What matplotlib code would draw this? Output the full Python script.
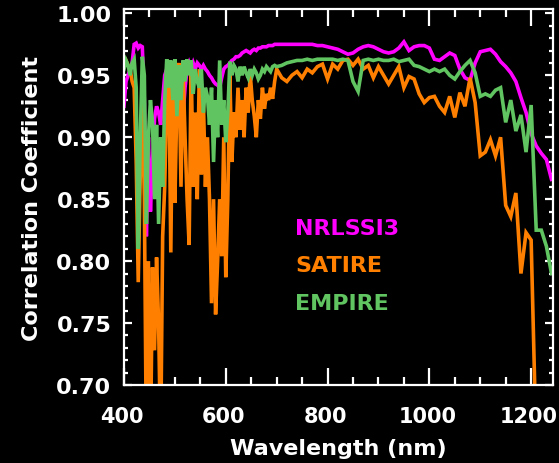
import numpy as np
import matplotlib
matplotlib.use("Agg")
import matplotlib.pyplot as plt
from matplotlib.ticker import MultipleLocator, FormatStrFormatter
from matplotlib.transforms import ScaledTranslation

# wavelength grids (nm)
wl_a = np.arange(400, 701, 4)
wl_b = np.arange(710, 1241, 10)
wavelength = np.concatenate([wl_a, wl_b])

nrlssi3 = [
    0.925, 0.945, 0.950, 0.955, 0.960, 0.975, 0.976, 0.972, 0.974, 0.973,
    0.930, 0.820, 0.900, 0.840, 0.880, 0.915, 0.925, 0.920, 0.910, 0.930,
    0.950, 0.955, 0.950, 0.955, 0.950, 0.945, 0.940, 0.950, 0.930, 0.918,
    0.940, 0.955, 0.960, 0.955, 0.960, 0.955, 0.960, 0.958, 0.955, 0.958,
    0.955, 0.953, 0.950, 0.948, 0.945, 0.943, 0.942, 0.940, 0.948, 0.955,
    0.957, 0.958, 0.960, 0.962, 0.963, 0.965, 0.965, 0.966, 0.968, 0.969,
    0.970, 0.969, 0.968, 0.970, 0.971, 0.970, 0.972, 0.972, 0.973, 0.973,
    0.973, 0.974, 0.974, 0.974, 0.975, 0.975,
    0.975, 0.975, 0.975, 0.975, 0.975, 0.975, 0.975, 0.974, 0.974, 0.973,
    0.972, 0.971, 0.969, 0.967, 0.968, 0.971, 0.973, 0.974, 0.973, 0.971,
    0.969, 0.968, 0.969, 0.972, 0.977, 0.970, 0.973, 0.974, 0.974, 0.972,
    0.963, 0.962, 0.965, 0.968, 0.966, 0.955, 0.948, 0.946, 0.960, 0.969,
    0.970, 0.971, 0.967, 0.961, 0.957, 0.952, 0.945, 0.932, 0.920, 0.903,
    0.893, 0.887, 0.882, 0.866,
]

satire = [
    0.960, 0.962, 0.958, 0.955, 0.945, 0.940, 0.880, 0.783, 0.870, 0.930,
    0.850, 0.650, 0.800, 0.650, 0.795, 0.728, 0.803, 0.750, 0.650, 0.820,
    0.860, 0.930, 0.960, 0.807, 0.960, 0.847, 0.930, 0.960, 0.860, 0.955,
    0.900, 0.850, 0.813, 0.960, 0.860, 0.920, 0.850, 0.955, 0.870, 0.930,
    0.860, 0.900, 0.850, 0.766, 0.850, 0.757, 0.800, 0.850, 0.804, 0.900,
    0.787, 0.850, 0.950, 0.880, 0.920, 0.900, 0.940, 0.906, 0.930, 0.900,
    0.940, 0.920, 0.951, 0.930, 0.917, 0.900, 0.930, 0.915, 0.940, 0.923,
    0.935, 0.930, 0.940, 0.931, 0.945, 0.955,
    0.948, 0.945, 0.950, 0.953, 0.948, 0.955, 0.952, 0.957, 0.959, 0.947,
    0.959, 0.955, 0.962, 0.963, 0.958, 0.963, 0.955, 0.958, 0.948, 0.957,
    0.950, 0.943, 0.950, 0.957, 0.940, 0.949, 0.947, 0.935, 0.928, 0.932,
    0.933, 0.925, 0.920, 0.933, 0.916, 0.936, 0.925, 0.948, 0.928, 0.885,
    0.888, 0.898, 0.885, 0.900, 0.845, 0.836, 0.855, 0.790, 0.823, 0.817,
    0.650, 0.650, 0.650, 0.650,
]

empire = [
    0.955, 0.962, 0.958, 0.950, 0.960, 0.963, 0.940, 0.810, 0.900, 0.965,
    0.950, 0.830, 0.900, 0.930, 0.912, 0.850, 0.910, 0.830, 0.900, 0.860,
    0.930, 0.963, 0.940, 0.962, 0.930, 0.963, 0.917, 0.958, 0.930, 0.962,
    0.945, 0.963, 0.950, 0.962, 0.935, 0.955, 0.945, 0.940, 0.955, 0.920,
    0.940, 0.933, 0.910, 0.940, 0.880, 0.930, 0.900, 0.962, 0.910, 0.930,
    0.896, 0.920, 0.961, 0.950, 0.958, 0.955, 0.945, 0.957, 0.950, 0.957,
    0.952, 0.948, 0.955, 0.950, 0.955, 0.952, 0.947, 0.950, 0.955, 0.953,
    0.957, 0.955, 0.953, 0.957, 0.958, 0.957,
    0.958, 0.960, 0.961, 0.962, 0.962, 0.963, 0.962, 0.963, 0.963, 0.963,
    0.963, 0.962, 0.963, 0.962, 0.945, 0.937, 0.962, 0.963, 0.962, 0.963,
    0.962, 0.962, 0.963, 0.961, 0.962, 0.963, 0.958, 0.957, 0.955, 0.953,
    0.955, 0.953, 0.955, 0.950, 0.947, 0.953, 0.958, 0.962, 0.952, 0.933,
    0.935, 0.933, 0.938, 0.940, 0.912, 0.930, 0.905, 0.918, 0.888, 0.926,
    0.825, 0.825, 0.812, 0.790,
]

series_names = ["NRLSSI3", "SATIRE", "EMPIRE"]
series_colors = ["#ff00ff", "#ff8000", "#60c460"]

plt.rcParams['font.family'] = ['DejaVu Sans']
plt.rcParams['font.weight'] = 'bold'

fig = plt.figure(figsize=(5.59, 4.64), dpi=100, facecolor='black')
ax = fig.add_axes([0.2218, 0.1681, 0.7675, 0.8103], facecolor='black')

for vals, col in zip([nrlssi3, satire, empire], series_colors):
    ax.plot(wavelength, vals, color=col, lw=2.6, solid_joinstyle='miter')

ax.set_xlim(400, 1243)
ax.set_ylim(0.70, 1.0035)

ax.xaxis.set_major_locator(MultipleLocator(200))
ax.xaxis.set_minor_locator(MultipleLocator(50))
ax.yaxis.set_major_locator(MultipleLocator(0.05))
ax.yaxis.set_minor_locator(MultipleLocator(0.01))

for sp in ax.spines.values():
    sp.set_color('white')
    sp.set_linewidth(1.6)

ax.tick_params(axis='x', which='major', direction='in', length=12, width=1.6,
               color='white', top=True, bottom=True, labelsize=15,
               labelcolor='white', pad=15)
ax.tick_params(axis='x', which='minor', direction='in', length=5.5, width=1.6,
               color='white', top=True, bottom=True)
ax.tick_params(axis='y', which='major', direction='in', length=6, width=1.6,
               color='white', left=True, right=True, labelsize=16,
               labelcolor='white', pad=9)
ax.tick_params(axis='y', which='minor', direction='in', length=3, width=1.6,
               color='white', left=True, right=True)
ax.yaxis.set_major_formatter(FormatStrFormatter('%.2f'))

shift = ScaledTranslation(-2.0 / 100, 0, fig.dpi_scale_trans)
for lbl in ax.get_xticklabels():
    lbl.set_transform(lbl.get_transform() + shift)

ax.set_xlabel("Wavelength (nm)", color='white', fontsize=16, fontweight='bold', labelpad=9)
ax.set_ylabel("Correlation Coefficient", color='white', fontsize=16, fontweight='bold', labelpad=10)

label_y = [0.827, 0.797, 0.766]
for name, col, yy in zip(series_names, series_colors, label_y):
    ax.text(736, yy, name, color=col, fontsize=16, fontweight='bold', va='center', ha='left')

fig.savefig("out.png", dpi=100, facecolor='black')
